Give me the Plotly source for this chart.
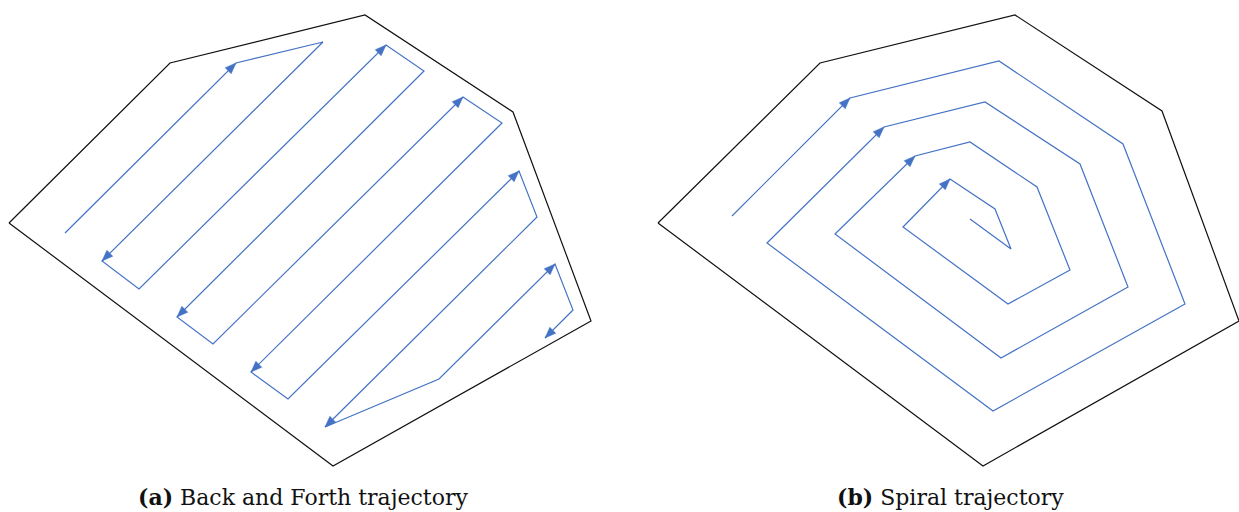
import math
import plotly.graph_objects as go

# Field boundary (same polygon shape in both panels, panel b shifted right)
field_a_x = [9, 170, 365, 513, 591, 333, 9]
field_a_y = [223, 63, 15, 112, 321, 466, 223]
field_b_x = [658, 820, 1015, 1162, 1239, 983, 658]
field_b_y = [223, 63, 15, 111, 321, 466, 223]

# Back-and-forth coverage path
bf_x = [65, 236, 323, 102, 139, 386, 424, 177, 213, 463, 502, 251, 288, 519, 537, 325, 439, 555, 573, 545]
bf_y = [233, 63, 42, 261, 289, 45, 71, 317, 344, 97, 123, 372, 399, 171, 217, 427, 379, 264, 310, 338]
bf_arrow = [0, 1, 0, 1, 0, 1, 0, 1, 0, 1, 0, 1, 0, 1, 0, 1, 0, 1, 0, 1]

# Spiral coverage path
sp_x = [732, 850, 999, 1123, 1185, 993, 767, 884, 985, 1080, 1128, 1001, 835, 915, 970, 1037, 1070, 1008, 903, 950, 995, 1011, 970]
sp_y = [216, 98, 61, 144, 304, 411, 243, 127, 102, 164, 287, 358, 234, 156, 142, 187, 270, 304, 227, 179, 209, 249, 219]
sp_arrow = [0, 1, 0, 0, 0, 0, 0, 1, 0, 0, 0, 0, 0, 1, 0, 0, 0, 0, 0, 1, 0, 0, 0]

captions = [("<b>(a)</b> Back and Forth trajectory", 303),
            ("<b>(b)</b> Spiral trajectory", 950)]

BLUE = "#4472C4"
HEAD_LEN = 11.0   # arrowhead length (axis units = screen px here)
HEAD_HALF = 4.2   # arrowhead half-width


def arrowheads(xs, ys, flags):
    """Filled triangles at flagged vertices, pointing along the incoming segment."""
    hx, hy = [], []
    for i in range(1, len(xs)):
        if not flags[i]:
            continue
        dx, dy = xs[i] - xs[i - 1], ys[i] - ys[i - 1]
        n = math.hypot(dx, dy)
        ux, uy = dx / n, dy / n
        bx, by = xs[i] - ux * HEAD_LEN, ys[i] - uy * HEAD_LEN
        px, py = -uy * HEAD_HALF, ux * HEAD_HALF
        hx += [xs[i], bx + px, bx - px, xs[i], None]
        hy += [ys[i], by + py, by - py, ys[i], None]
    return hx, hy


fig = go.Figure()

for fx, fy in [(field_a_x, field_a_y), (field_b_x, field_b_y)]:
    fig.add_trace(go.Scatter(x=fx, y=fy, mode="lines",
                             line=dict(color="#111111", width=1.2),
                             hoverinfo="skip"))

for px, py, flags in [(bf_x, bf_y, bf_arrow), (sp_x, sp_y, sp_arrow)]:
    fig.add_trace(go.Scatter(x=px, y=py, mode="lines",
                             line=dict(color=BLUE, width=1.2),
                             hoverinfo="skip"))
    hx, hy = arrowheads(px, py, flags)
    fig.add_trace(go.Scatter(x=hx, y=hy, mode="lines", fill="toself",
                             fillcolor=BLUE, line=dict(color=BLUE, width=0.5),
                             hoverinfo="skip"))

for text, cx in captions:
    fig.add_annotation(x=cx, y=497, text=text, showarrow=False,
                       xanchor="center", yanchor="middle",
                       font=dict(family="DejaVu Serif", size=22, color="#111111"))

fig.update_xaxes(range=[0, 1239], visible=False)
fig.update_yaxes(range=[512, 0], visible=False)
fig.update_layout(width=1239, height=512, margin=dict(l=0, r=0, t=0, b=0),
                  plot_bgcolor="white", paper_bgcolor="white", showlegend=False)

fig.write_html("out.html")
